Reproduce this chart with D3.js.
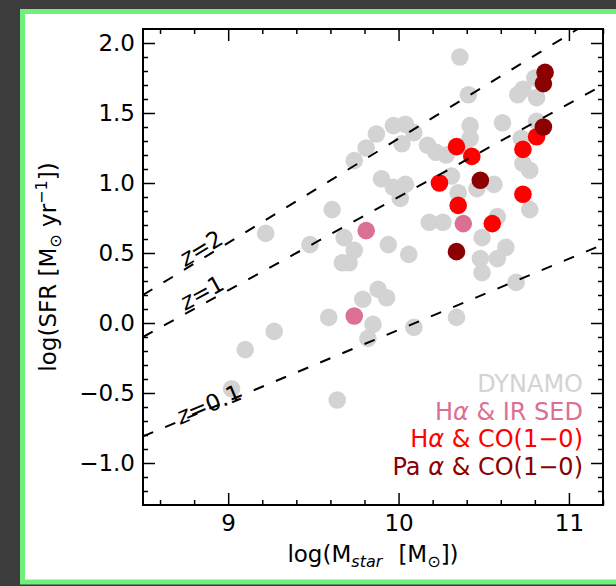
<!DOCTYPE html>
<html>
<head>
<meta charset="utf-8">
<script src="https://cdn.jsdelivr.net/npm/d3@7"></script>
<style>
  body { margin: 0; background: #3c3c3c; }
  svg { display: block; font-family: "DejaVu Sans", sans-serif; }
</style>
</head>
<body>
<div class="vis-scatter"></div>
<script>
// DYNAMO sample (grey)
const dynamoMass = [10.36, 10.41, 10.70, 10.73, 10.80, 10.81, 10.61, 10.81, 10.72, 10.42, 10.42, 10.38,
  10.17, 10.22, 10.28, 9.97, 10.04, 10.09, 10.02, 9.87, 9.81, 9.74, 10.73, 10.77, 9.90, 9.97, 10.04,
  10.01, 10.31, 10.35, 10.46, 10.56, 10.77, 9.61, 9.22, 9.48, 9.68, 9.74, 9.67, 9.71, 9.94, 10.06,
  10.18, 10.26, 10.49, 10.58, 10.48, 10.58, 10.63, 10.49, 10.69, 9.88, 9.79, 9.93, 9.59, 9.85, 9.82,
  10.09, 10.34, 9.27, 9.10, 9.02, 9.64];
const dynamoSFR = [1.90, 1.63, 1.63, 1.67, 1.75, 1.61, 1.43, 1.44, 1.32, 1.41, 1.32, 1.26,
  1.27, 1.22, 1.20, 1.41, 1.42, 1.36, 1.28, 1.35, 1.25, 1.16, 1.14, 1.09, 1.03, 0.97, 0.99,
  0.89, 1.05, 0.93, 0.96, 0.99, 0.81, 0.81, 0.64, 0.56, 0.61, 0.52, 0.43, 0.43, 0.56, 0.49,
  0.72, 0.72, 0.61, 0.76, 0.46, 0.46, 0.54, 0.36, 0.29, 0.24, 0.17, 0.18, 0.04, -0.01, -0.11,
  -0.03, 0.04, -0.06, -0.19, -0.47, -0.55];

// H-alpha & IR SED (pink)
const irsedMass = [9.81, 10.38, 9.74];
const irsedSFR = [0.66, 0.71, 0.05];

// H-alpha & CO(1-0) (red)
const haCoMass = [10.34, 10.43, 10.24, 10.73, 10.81, 10.73, 10.35, 10.55];
const haCoSFR = [1.26, 1.19, 1.00, 1.24, 1.33, 0.92, 0.84, 0.71];

// Pa alpha & CO(1-0) (dark red)
const paCoMass = [10.86, 10.85, 10.85, 10.48, 10.34];
const paCoSFR = [1.79, 1.71, 1.40, 1.02, 0.51];

// main sequence lines
const lineMass = [8.5, 11.2];
const lineZ2 = [0.20, 2.21];
const lineZ1 = [-0.10, 1.70];
const lineZ01 = [-0.81, 0.56];

const xTicks = [9, 10, 11];
const yTicks = [-1.0, -0.5, 0.0, 0.5, 1.0, 1.5, 2.0];

const width = 616, height = 586;
const margin = {top: 29, right: 13, bottom: 81, left: 143};

const svg = d3.select('.vis-scatter').append('svg')
  .attr('width', width)
  .attr('height', height);

// panel with green frame
svg.append('rect')
  .attr('x', 22.5).attr('y', 11.5)
  .attr('width', 640).attr('height', 570.5)
  .attr('fill', '#ffffff')
  .attr('stroke', '#70f07a')
  .attr('stroke-width', 5);

const x = d3.scaleLinear().domain([8.5, 11.2]).range([margin.left, width - margin.right]);
const y = d3.scaleLinear().domain([-1.3, 2.1]).range([height - margin.bottom, margin.top]);

svg.append('clipPath').attr('id', 'plotclip')
  .append('rect')
  .attr('x', x(8.5)).attr('y', y(2.1))
  .attr('width', x(11.2) - x(8.5)).attr('height', y(-1.3) - y(2.1));

const plot = svg.append('g').attr('clip-path', 'url(#plotclip)');

function dots(mass, sfr, color) {
  plot.append('g').selectAll('circle')
    .data(mass.map((m, i) => [m, sfr[i]]))
    .enter()
    .append('circle')
      .attr('cx', d => x(d[0]))
      .attr('cy', d => y(d[1]))
      .attr('r', 8.8)
      .style('fill', color);
}
dots(dynamoMass, dynamoSFR, '#d3d3d3');
dots(irsedMass, irsedSFR, '#db7093');
dots(haCoMass, haCoSFR, '#ff0000');
dots(paCoMass, paCoSFR, '#8b0000');

// dashed main-sequence lines
const lines = [
  {sfr: lineZ2, label: 'z=2', at: 8.75, off: 2},
  {sfr: lineZ1, label: 'z=1', at: 8.75, off: 3},
  {sfr: lineZ01, label: 'z=0.1', at: 8.72, off: -4}
];
const lineGen = d3.line().x(d => x(d[0])).y(d => y(d[1]));
lines.forEach(l => {
  plot.append('path')
    .datum(lineMass.map((m, i) => [m, l.sfr[i]]))
    .attr('d', lineGen)
    .attr('fill', 'none')
    .attr('stroke', '#000')
    .attr('stroke-width', 2)
    .attr('stroke-dasharray', '11,13');
  const slope = (l.sfr[1] - l.sfr[0]) / (lineMass[1] - lineMass[0]);
  const yAt = l.sfr[0] + slope * (l.at - lineMass[0]);
  const px0 = x(l.at), py0 = y(yAt);
  const ang = Math.atan2(y(yAt + slope) - py0, x(l.at + 1) - px0) * 180 / Math.PI;
  const t = svg.append('text')
    .attr('transform', 'translate(' + px0 + ',' + (py0 - l.off) + ') rotate(' + ang + ')')
    .style('font-size', '23px')
    .style('fill', '#000');
  t.append('tspan').style('font-style', 'italic').text('z');
  t.append('tspan').text(l.label.slice(1));
});

// axes: inward ticks on all four sides
function styleAxis(g) {
  g.select('.domain').remove();
  g.selectAll('.tick line').attr('stroke', '#000').attr('stroke-width', 1.5);
  g.selectAll('text').style('font-size', '23px').style('fill', '#000').attr('font-family', 'DejaVu Sans');
}
const fmtY = d3.format('.1f');
const xMinor = d3.range(8.6, 11.21, 0.2).filter(v => Math.abs(v - Math.round(v)) > 0.01);
const yMinor = d3.range(-1.2, 2.05, 0.1).filter(v => Math.abs(v * 2 - Math.round(v * 2)) > 0.01);

const pBottom = height - margin.bottom, pTop = margin.top;
const pLeft = margin.left, pRight = width - margin.right;

svg.append('g').attr('transform', 'translate(0,' + pBottom + ')')
  .call(d3.axisBottom(x).tickValues(xTicks).tickSize(-12).tickPadding(10).tickFormat(d3.format('d')))
  .call(styleAxis);
svg.append('g').attr('transform', 'translate(0,' + pBottom + ')')
  .call(d3.axisBottom(x).tickValues(xMinor).tickSize(-5).tickFormat(''))
  .call(styleAxis);
svg.append('g').attr('transform', 'translate(0,' + pTop + ')')
  .call(d3.axisTop(x).tickValues(xTicks).tickSize(-12).tickFormat(''))
  .call(styleAxis);
svg.append('g').attr('transform', 'translate(0,' + pTop + ')')
  .call(d3.axisTop(x).tickValues(xMinor).tickSize(-5).tickFormat(''))
  .call(styleAxis);

svg.append('g').attr('transform', 'translate(' + pLeft + ',0)')
  .call(d3.axisLeft(y).tickValues(yTicks).tickSize(-12).tickPadding(8).tickFormat(fmtY))
  .call(styleAxis);
svg.append('g').attr('transform', 'translate(' + pLeft + ',0)')
  .call(d3.axisLeft(y).tickValues(yMinor).tickSize(-5).tickFormat(''))
  .call(styleAxis);
svg.append('g').attr('transform', 'translate(' + pRight + ',0)')
  .call(d3.axisRight(y).tickValues(yTicks).tickSize(-12).tickFormat(''))
  .call(styleAxis);
svg.append('g').attr('transform', 'translate(' + pRight + ',0)')
  .call(d3.axisRight(y).tickValues(yMinor).tickSize(-5).tickFormat(''))
  .call(styleAxis);

// frame
svg.append('rect')
  .attr('x', pLeft).attr('y', pTop)
  .attr('width', pRight - pLeft).attr('height', pBottom - pTop)
  .attr('fill', 'none').attr('stroke', '#000').attr('stroke-width', 2);

// legend (text only)
const legendLabels = ['DYNAMO', 'H|α| & IR SED', 'H|α| & CO(1\u22120)', 'Pa |α| & CO(1\u22120)'];
const legendColors = ['#d3d3d3', '#db7093', '#ff0000', '#8b0000'];
legendLabels.forEach((lab, i) => {
  const t = svg.append('text')
    .attr('x', 583).attr('y', 392 + i * 27.7)
    .attr('text-anchor', 'end')
    .style('font-size', '24px')
    .style('fill', legendColors[i]);
  lab.split('|').forEach((part, j) => {
    t.append('tspan').style('font-style', j % 2 ? 'italic' : 'normal').text(part);
  });
});

// axis titles
const xt = svg.append('text')
  .attr('x', (pLeft + pRight) / 2).attr('y', 562)
  .attr('text-anchor', 'middle')
  .style('font-size', '23px');
xt.append('tspan').text('log(M');
xt.append('tspan').attr('dy', 5).style('font-size', '16px').style('font-style', 'italic').text('star');
xt.append('tspan').attr('dy', -5).text('\u2002\u2009[M');
xt.append('tspan').attr('dy', 5).style('font-size', '16px').text('\u2299');
xt.append('tspan').attr('dy', -5).text('])');

const yt = svg.append('text')
  .attr('transform', 'translate(56,' + ((pTop + pBottom) / 2) + ') rotate(-90)')
  .attr('text-anchor', 'middle')
  .style('font-size', '23px');
yt.append('tspan').text('log(SFR [M');
yt.append('tspan').attr('dy', 5).style('font-size', '16px').text('\u2299');
yt.append('tspan').attr('dy', -5).text(' yr');
yt.append('tspan').attr('dy', -9).style('font-size', '16px').text('\u22121');
yt.append('tspan').attr('dy', 9).text('])');
</script>
</body>
</html>
